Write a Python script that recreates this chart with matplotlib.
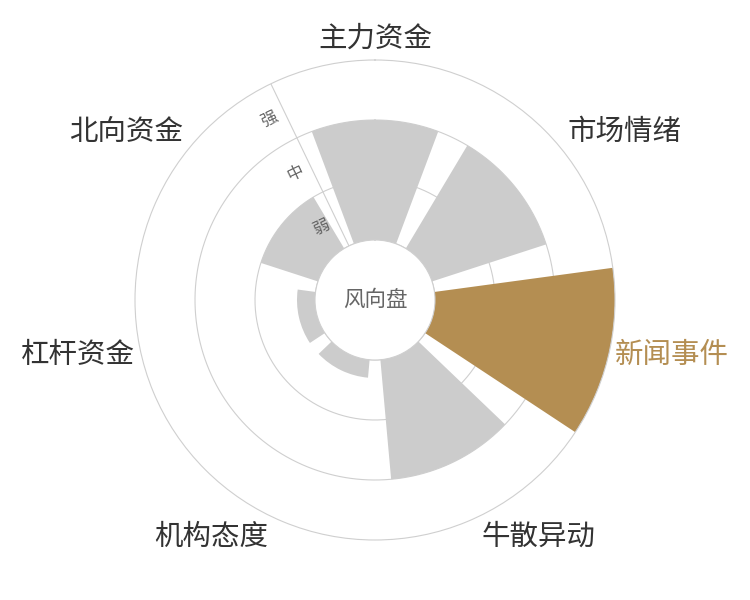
import numpy as np
import matplotlib
matplotlib.use("Agg")
import matplotlib.pyplot as plt

plt.rcParams['font.family'] = ['Noto Sans CJK SC', 'DejaVu Sans']

# 数据
categories = ["主力资金", "市场情绪", "新闻事件", "牛散异动", "机构态度", "杠杆资金", "北向资金"]
values = [2.0, 2.0, 3.0, 2.0, 0.3, 0.3, 1.0]
levels = ["弱", "中", "强"]
highlight = "新闻事件"

GREY = "#cccccc"
GOLD = "#b48e52"
LINE = "#cfcfcf"

n = len(categories)
step = 2 * np.pi / n
theta = np.arange(n) * step

fig = plt.figure(figsize=(7.5, 6), dpi=100)
ax = fig.add_axes([0.18, 0.1, 0.64, 0.8], projection="polar")
ax.set_theta_zero_location("N")
ax.set_theta_direction(-1)
ax.set_ylim(0, len(levels))
ax.set_rorigin(-1)

# 网格圆
full = np.linspace(0, 2 * np.pi, 400)
for r in range(0, len(levels)):
    ax.plot(full, np.full_like(full, r), color=LINE, lw=0.8, zorder=0)

# 径向轴线
axis_th = -step / 2
ax.plot([axis_th, axis_th], [0, len(levels)], color=LINE, lw=0.8, zorder=0)

colors = [GOLD if c == highlight else GREY for c in categories]
ax.bar(theta, values, width=step * 0.8, bottom=0, color=colors, zorder=1)

ax.set_xticks([])
ax.set_yticks([])
ax.grid(False)
for name, sp in ax.spines.items():
    sp.set_color(LINE)
    sp.set_linewidth(0.8)

# 类目标签
for th, cat in zip(theta, categories):
    sx, cy = np.sin(th), np.cos(th)
    if abs(sx) < 0.1:
        ha = "center"
    else:
        ha = "left" if sx > 0 else "right"
    if cy > 0.5:
        va = "bottom"
    elif cy < -0.5:
        va = "top"
    else:
        va = "center"
    col = GOLD if cat == highlight else "#333333"
    ax.text(th, len(levels) + 0.1, cat, ha=ha, va=va, fontsize=20.5, color=col)

# 强中弱标签
for i, lv in enumerate(levels):
    r = i + 0.5
    rpx = 60 + 60 * r
    th = axis_th - np.arcsin(17 / rpx)
    ax.text(th, r, lv, ha="center", va="center", fontsize=12, color="#666666",
            rotation=np.degrees(step / 2))

# 中心文字
ax.text(0, -1, "风向盘", ha="center", va="center", fontsize=15.5, color="#666666")

fig.savefig("out.png", dpi=100)
